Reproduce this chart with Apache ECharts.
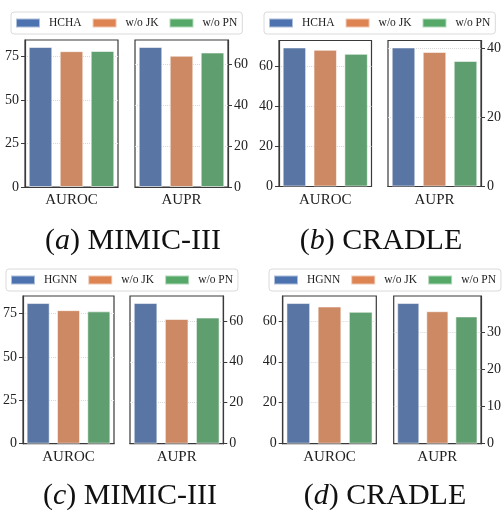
<!DOCTYPE html>
<html>
<head>
<meta charset="utf-8">
<style>
html, body { margin: 0; padding: 0; background: #fff; }
#main { width: 504px; height: 510px; }
</style>
<script src="https://cdn.jsdelivr.net/npm/echarts@6/dist/echarts.min.js"></script>
</head>
<body>
<div id="main"></div>
<script>
var methodsA = ['HCHA', 'w/o JK', 'w/o PN'];
var methodsC = ['HGNN', 'w/o JK', 'w/o PN'];

// (a) MIMIC-III, (b) CRADLE  - HCHA
var aurocA = [80.5, 78.1, 78.2];
var auprA = [68.7, 64.4, 66.0];
var aurocB = [69.5, 68.3, 66.3];
var auprB = [40.2, 38.9, 36.3];
// (c) MIMIC-III, (d) CRADLE  - HGNN
var aurocC = [81.0, 76.9, 76.2];
var auprC = [68.7, 60.9, 61.6];
var aurocD = [68.7, 67.0, 64.4];
var auprD = [37.8, 35.6, 34.2];

var ticks25 = [0, 25, 50, 75];
var ticks20 = [0, 20, 40, 60];
var ticks20b = [0, 20, 40];
var ticks10 = [0, 10, 20, 30];

var barColors = ['#5975a4', '#cc8963', '#5f9e6e'];
var legendColors = ['#4c72b0', '#dd8452', '#55a868'];
var serif = '"Liberation Serif", "DejaVu Serif", serif';

// one entry per subplot
var plots = [
	{ names: methodsA, values: aurocA, ticks: ticks25, label: 'AUROC', side: 'left', box: [25, 40, 93, 147] },
	{ names: methodsA, values: auprA, ticks: ticks20, label: 'AUPR', side: 'right', box: [135, 40, 93, 147] },
	{ names: methodsA, values: aurocB, ticks: ticks20, label: 'AUROC', side: 'left', box: [279, 40.5, 92.5, 146] },
	{ names: methodsA, values: auprB, ticks: ticks20b, label: 'AUPR', side: 'right', box: [388, 40.5, 93, 146] },
	{ names: methodsC, values: aurocC, ticks: ticks25, label: 'AUROC', side: 'left', box: [20.7, 296, 93.3, 147.7] },
	{ names: methodsC, values: auprC, ticks: ticks20, label: 'AUPR', side: 'right', box: [130, 296, 93.3, 147.7] },
	{ names: methodsC, values: aurocD, ticks: ticks20, label: 'AUROC', side: 'left', box: [282.7, 296, 93.6, 147.7] },
	{ names: methodsC, values: auprD, ticks: ticks10, label: 'AUPR', side: 'right', box: [393.7, 296, 91.6, 147.7] }
];

var grids = [], xAxes = [], yAxes = [], series = [];

for (var i = 0; i < plots.length; i++) {
	var p = plots[i];
	// matplotlib-like 5% headroom
	var yMax = Math.max.apply(null, p.values) * 1.05;
	grids.push({
		left: p.box[0], top: p.box[1], width: p.box[2], height: p.box[3],
		show: true, borderColor: '#3a3a3a', borderWidth: 1.2
	});
	xAxes.push({
		type: 'category', gridIndex: i, data: p.names,
		name: p.label, nameLocation: 'middle', nameGap: 6,
		nameTextStyle: { fontFamily: serif, fontSize: 15, color: '#222' },
		axisLine: { lineStyle: { color: '#3a3a3a', width: 1.2 } },
		axisTick: { show: false },
		axisLabel: { show: false },
		splitLine: { show: false }
	});
	yAxes.push({
		type: 'value', gridIndex: i, position: p.side,
		min: 0, max: yMax, interval: p.ticks[1] - p.ticks[0],
		axisLine: { show: true, lineStyle: { color: '#3a3a3a', width: 1.2 } },
		axisTick: { show: true, length: 4, customValues: p.ticks, lineStyle: { color: '#3a3a3a' } },
		axisLabel: { customValues: p.ticks, margin: 6, fontFamily: serif, fontSize: 14, color: '#222' },
		splitLine: { show: true, lineStyle: { color: '#d8d8d8', type: 'dotted', width: 1 } }
	});
	for (var k = 0; k < 3; k++) {
		var d = ['-', '-', '-'];
		d[k] = p.values[k];
		series.push({
			type: 'bar', name: p.names[k], xAxisIndex: i, yAxisIndex: i,
			data: d, barWidth: '76%', barGap: '-100%',
			itemStyle: { color: barColors[k], borderColor: 'rgba(255,255,255,0.55)', borderWidth: 1 },
			silent: true
		});
	}
}

function makeLegend(names, left, topPos) {
	return {
		left: left, top: topPos, orient: 'horizontal',
		icon: 'rect', itemWidth: 24, itemHeight: 9, itemGap: 10,
		padding: [5, 5, 5, 4],
		borderColor: '#dadada', borderWidth: 1, borderRadius: 3,
		backgroundColor: '#fff',
		selectedMode: false,
		textStyle: { fontFamily: serif, fontSize: 11.5, color: '#222', padding: [0, 0, 0, 4] },
		data: names.map(function(n, j) {
			return { name: n, itemStyle: { color: legendColors[j] } };
		})
	};
}

function caption(letter, text, x, y) {
	return {
		text: '{p|(}{i|' + letter + '}{p|) ' + text + '}',
		left: x, top: y, textAlign: 'center',
		textStyle: {
			fontWeight: 'normal',
			rich: {
				p: { fontFamily: serif, fontSize: 30, fontWeight: 'normal', color: '#111' },
				i: { fontFamily: serif, fontSize: 30, fontWeight: 'normal', fontStyle: 'italic', color: '#111' }
			}
		}
	};
}

var myChart = echarts.init(document.getElementById('main'));
var option = {
	backgroundColor: '#fff',
	animation: false,
	title: [
		caption('a', 'MIMIC-III', 128, 221),
		caption('b', 'CRADLE', 376, 221),
		caption('c', 'MIMIC-III', 125, 476),
		caption('d', 'CRADLE', 380, 476)
	],
	legend: [
		makeLegend(methodsA, 11, 12),
		makeLegend(methodsA, 264, 12),
		makeLegend(methodsC, 6, 269),
		makeLegend(methodsC, 269, 269)
	],
	grid: grids,
	xAxis: xAxes,
	yAxis: yAxes,
	series: series
};
myChart.setOption(option);
</script>
</body>
</html>
